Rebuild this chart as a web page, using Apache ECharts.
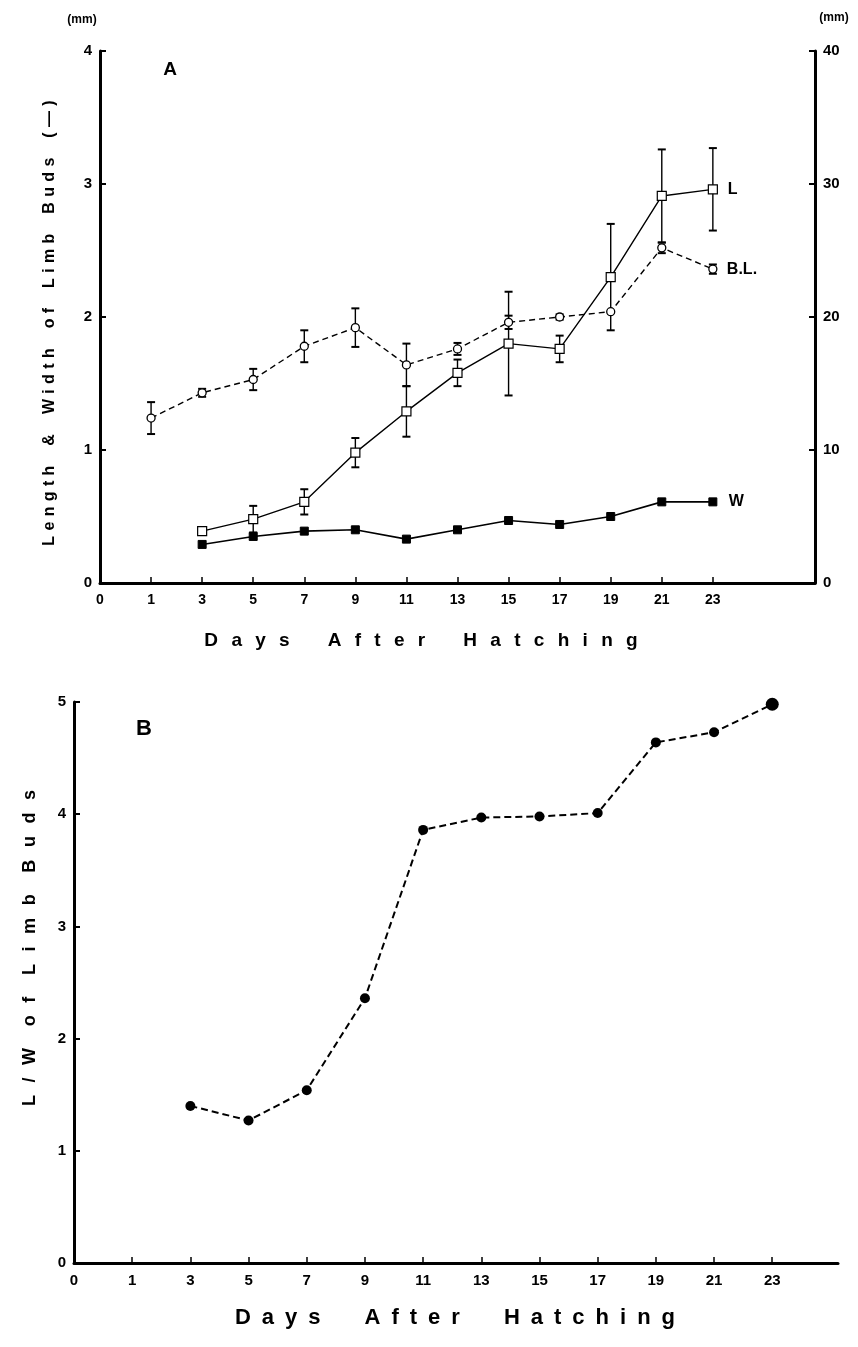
<!DOCTYPE html>
<html lang="en">
<head>
<meta charset="UTF-8">
<title>Limb buds</title>
<script src="https://cdn.jsdelivr.net/npm/echarts@6/dist/echarts.min.js"></script>
<style>
  html, body { margin: 0; padding: 0; background: #fff; }
  #main { width: 858px; height: 1347px; }
</style>
</head>
<body>
<div id="main"></div>
<script>
// x categories (days after hatching), equally spaced on the axis
var days = ['0', '1', '3', '5', '7', '9', '11', '13', '15', '17', '19', '21', '23'];

// panel A, left axis (mm)
var lengthL    = [null, null, 0.39, 0.48, 0.61, 0.98, 1.29, 1.58, 1.80, 1.76, 2.30, 2.91, 2.96];
var lengthLErr = [null, null, 0,    0.10, 0.095, 0.11, 0.19, 0.10, 0.39, 0.10, 0.40, 0.35, 0.31];
var widthW     = [null, null, 0.29, 0.35, 0.39, 0.40, 0.33, 0.40, 0.47, 0.44, 0.50, 0.61, 0.61];
// panel A, right axis: body length (mm)
var bodyBL    = [null, 12.4, 14.3, 15.3, 17.8, 19.2, 16.4, 17.6, 19.6, 20.0, 20.4, 25.2, 23.6];
var bodyBLErr = [null, 1.2,  0.3,  0.8,  1.2,  1.45, 1.6,  0.45, 0.5,  0.2,  0,    0.4,  0.35];

// panel B: L/W ratio
var ratioLW = [null, null, 1.40, 1.27, 1.54, 2.36, 3.86, 3.97, 3.98, 4.01, 4.64, 4.73, 4.98];

var FONT = '"Liberation Sans", Arial, sans-serif';
var tickIdx = days.map(function (d, i) { return i; });

function pts(vals) {
    var out = [];
    for (var i = 0; i < vals.length; i++) {
        if (vals[i] != null) out.push([i, vals[i]]);
    }
    return out;
}
function errPts(vals, errs) {
    var out = [];
    for (var i = 0; i < vals.length; i++) {
        if (vals[i] != null && errs[i]) out.push([i, vals[i], errs[i]]);
    }
    return out;
}
// spread letters out like the typeset axis titles
function spaced(s, gap, wgap) {
    return s.split(' ').map(function (w) { return w.split('').join(gap); }).join(wgap);
}

function errorBars(params, api) {
    var x = api.value(0), y = api.value(1), e = api.value(2);
    var hi = api.coord([x, y + e]);
    var lo = api.coord([x, y - e]);
    var st = { stroke: '#000', lineWidth: 1.4 };
    return {
        type: 'group',
        children: [
            { type: 'line', shape: { x1: hi[0], y1: hi[1], x2: lo[0], y2: lo[1] }, style: st },
            { type: 'line', shape: { x1: hi[0] - 4, y1: hi[1], x2: hi[0] + 4, y2: hi[1] }, style: { stroke: '#000', lineWidth: 2 } },
            { type: 'line', shape: { x1: lo[0] - 4, y1: lo[1], x2: lo[0] + 4, y2: lo[1] }, style: { stroke: '#000', lineWidth: 2 } }
        ]
    };
}

function xAxis(gridIndex, max, fs) {
    return {
        gridIndex: gridIndex,
        type: 'value',
        min: 0,
        max: max,
        interval: 1,
        splitLine: { show: false },
        axisLine: { show: true, onZero: false, lineStyle: { color: '#000', width: 3 } },
        axisTick: { show: true, inside: true, length: 6, customValues: tickIdx, lineStyle: { color: '#000', width: 1.5 } },
        axisLabel: {
            customValues: tickIdx,
            formatter: function (v) { return days[Math.round(v)]; },
            color: '#000', fontFamily: FONT, fontWeight: 'bold', fontSize: fs, margin: 10
        }
    };
}

function yAxis(gridIndex, max, interval, pos) {
    return {
        gridIndex: gridIndex,
        type: 'value',
        position: pos,
        min: 0,
        max: max,
        interval: interval,
        splitLine: { show: false },
        axisLine: { show: true, onZero: false, lineStyle: { color: '#000', width: 3 } },
        axisTick: { show: true, inside: true, length: 6, lineStyle: { color: '#000', width: 2 } },
        axisLabel: { color: '#000', fontFamily: FONT, fontWeight: 'bold', fontSize: 15, margin: 8 }
    };
}

var myChart = echarts.init(document.getElementById('main'));

var option = {
    backgroundColor: '#fff',
    animation: false,
    grid: [
        { left: 100, top: 51, width: 715, height: 532 },
        { left: 74, top: 702, right: 20, height: 561 }
    ],
    xAxis: [xAxis(0, 14, 14), xAxis(1, 13.13, 15)],
    yAxis: [
        yAxis(0, 4, 1, 'left'),
        yAxis(0, 40, 10, 'right'),
        yAxis(1, 5, 1, 'left')
    ],
    graphic: [
        { type: 'text', x: 82, y: 20, style: { text: '(mm)', font: 'bold 12px ' + FONT, fill: '#000', align: 'center', verticalAlign: 'middle' } },
        { type: 'text', x: 834, y: 18, style: { text: '(mm)', font: 'bold 12px ' + FONT, fill: '#000', align: 'center', verticalAlign: 'middle' } },
        { type: 'text', x: 170, y: 70, style: { text: 'A', font: 'bold 19px ' + FONT, fill: '#000', align: 'center', verticalAlign: 'middle' } },
        { type: 'text', x: 144, y: 729, style: { text: 'B', font: 'bold 22px ' + FONT, fill: '#000', align: 'center', verticalAlign: 'middle' } },
        {
            type: 'text', x: 421, y: 641,
            style: { text: spaced('Days After Hatching', '\u2002\u2009', '\u2003\u2003'), font: 'bold 19px ' + FONT, fill: '#000', align: 'center', verticalAlign: 'middle' }
        },
        {
            type: 'text', x: 455, y: 1318,
            style: { text: spaced('Days After Hatching', '\u2002', '\u2003\u2003'), font: 'bold 22px ' + FONT, fill: '#000', align: 'center', verticalAlign: 'middle' }
        },
        {
            type: 'text', x: 50, y: 323, rotation: Math.PI / 2,
            style: { text: spaced('Length & Width of Limb Buds (\u2014)', '\u2004', '\u2003\u2005'), font: 'bold 16px ' + FONT, fill: '#000', align: 'center', verticalAlign: 'middle' }
        },
        {
            type: 'text', x: 30, y: 948, rotation: Math.PI / 2,
            style: { text: spaced('L/W of Limb Buds', '\u2002\u2009', '\u2003\u2009'), font: 'bold 18px ' + FONT, fill: '#000', align: 'center', verticalAlign: 'middle' }
        }
    ],
    series: [
        // error bars first so the open markers sit on top of them
        { type: 'custom', xAxisIndex: 0, yAxisIndex: 0, z: 1, renderItem: errorBars, data: errPts(lengthL, lengthLErr) },
        { type: 'custom', xAxisIndex: 0, yAxisIndex: 1, z: 1, renderItem: errorBars, data: errPts(bodyBL, bodyBLErr) },
        {
            name: 'B.L.', type: 'line', xAxisIndex: 0, yAxisIndex: 1, z: 3,
            data: pts(bodyBL),
            symbol: 'circle', symbolSize: 8,
            itemStyle: { color: '#fff', borderColor: '#000', borderWidth: 1.3 },
            lineStyle: { color: '#000', width: 1.4, type: [6, 4] },
            endLabel: { show: true, formatter: 'B.L.', distance: 14, color: '#000', fontFamily: FONT, fontWeight: 'bold', fontSize: 16 }
        },
        {
            name: 'L', type: 'line', xAxisIndex: 0, yAxisIndex: 0, z: 4,
            data: pts(lengthL),
            symbol: 'rect', symbolSize: 9,
            itemStyle: { color: '#fff', borderColor: '#000', borderWidth: 1.2 },
            lineStyle: { color: '#000', width: 1.4 },
            endLabel: { show: true, formatter: 'L', distance: 15, color: '#000', fontFamily: FONT, fontWeight: 'bold', fontSize: 16 }
        },
        {
            name: 'W', type: 'line', xAxisIndex: 0, yAxisIndex: 0, z: 4,
            data: pts(widthW),
            symbol: 'rect', symbolSize: 8,
            itemStyle: { color: '#000', borderColor: '#000' },
            lineStyle: { color: '#000', width: 1.6 },
            endLabel: { show: true, formatter: 'W', distance: 16, color: '#000', fontFamily: FONT, fontWeight: 'bold', fontSize: 16 }
        },
        {
            name: 'L/W', type: 'line', xAxisIndex: 1, yAxisIndex: 2, z: 3,
            data: pts(ratioLW).map(function (d, i, arr) {
                return i === arr.length - 1 ? { value: d, symbolSize: 13 } : d;
            }),
            symbol: 'circle', symbolSize: 10,
            itemStyle: { color: '#000' },
            lineStyle: { color: '#000', width: 2, type: [7, 4] }
        }
    ]
};

myChart.setOption(option);
</script>
</body>
</html>
